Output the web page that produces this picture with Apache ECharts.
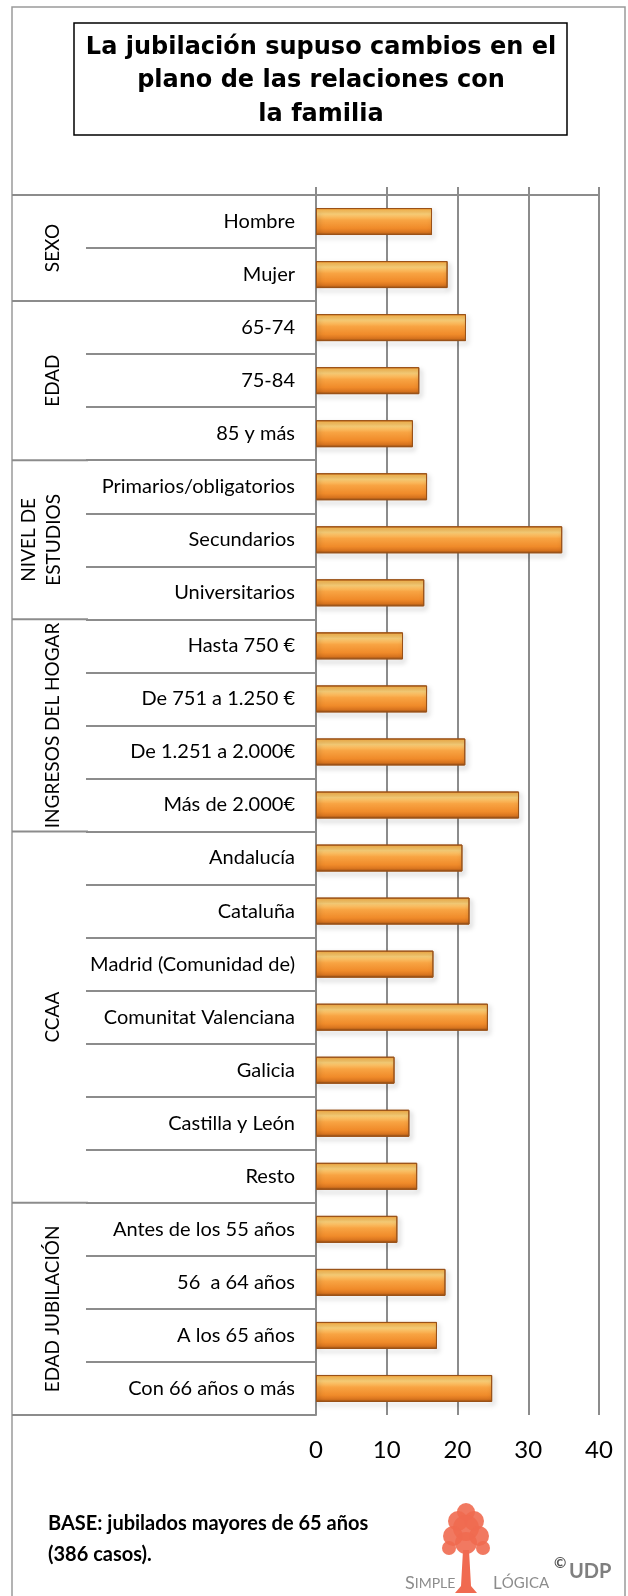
<!DOCTYPE html>
<html>
<head>
<meta charset="utf-8">
<script src="https://cdn.jsdelivr.net/npm/echarts@6/dist/echarts.min.js"></script>
<style>
  html, body { margin: 0; padding: 0; background: #fff; }
  #chart { width: 628px; height: 1596px; }
</style>
</head>
<body>
<div id="chart"></div>
<script>
// data
const categories = [
  "Hombre", "Mujer",
  "65-74", "75-84", "85 y más",
  "Primarios/obligatorios", "Secundarios", "Universitarios",
  "Hasta 750 €", "De 751 a 1.250 €", "De 1.251 a 2.000€", "Más de 2.000€",
  "Andalucía", "Cataluña", "Madrid (Comunidad de)", "Comunitat Valenciana",
  "Galicia", "Castilla y León", "Resto",
  "Antes de los 55 años", "56  a 64 años", "A los 65 años", "Con 66 años o más"
];
const values = [
  16.4, 18.6,
  21.2, 14.6, 13.7,
  15.7, 34.8, 15.3,
  12.3, 15.7, 21.1, 28.7,
  20.7, 21.7, 16.6, 24.3, 11.1, 13.2, 14.3,
  11.5, 18.3, 17.1, 24.9
];
const groupNames = ["SEXO", "EDAD", "NIVEL DE\nESTUDIOS", "INGRESOS DEL HOGAR", "CCAA", "EDAD JUBILACIÓN"];
const groupSizes = [2, 3, 3, 4, 7, 4];
const xTicks = [0, 10, 20, 30, 40];

const titleText = "La jubilación supuso cambios en el\nplano de las relaciones con\nla familia";
const footText = "BASE: jubilados mayores de 65 años\n(386 casos).";

const lineGray = "#8c8c8c";
const labelFont = "Lato";

const chart = echarts.init(document.getElementById("chart"));

//bar fill, bevelled orange look
const barFill = new echarts.graphic.LinearGradient(0, 0, 0, 1, [
  { offset: 0, color: "#f08a22" },
  { offset: 0.08, color: "#fbbd58" },
  { offset: 0.22, color: "#fdd27a" },
  { offset: 0.45, color: "#f8a443" },
  { offset: 0.75, color: "#f08b2a" },
  { offset: 0.9, color: "#d8741f" },
  { offset: 1, color: "#8f4c14" },
]);

chart.setOption({
  animation: false,
  backgroundColor: "#fff",
  grid: { left: 316, right: 29, top: 195, bottom: 181 },
  xAxis: [
    {
      type: "value",
      position: "bottom",
      min: xTicks[0],
      max: xTicks[xTicks.length - 1],
      interval: xTicks[1] - xTicks[0],
      axisLine: { show: false },
      axisTick: { show: false },
      splitLine: { show: true, lineStyle: { color: lineGray, width: 2 } },
      axisLabel: { fontFamily: labelFont, fontSize: 24, color: "#000", margin: 23 },
    },
    {
      type: "value",
      position: "top",
      min: xTicks[0],
      max: xTicks[xTicks.length - 1],
      interval: xTicks[1] - xTicks[0],
      axisLine: { show: true, lineStyle: { color: lineGray, width: 2 } },
      axisTick: { show: true, length: 8, lineStyle: { color: lineGray, width: 2 } },
      axisLabel: { show: false },
      splitLine: { show: false },
    },
  ],
  yAxis: {
    type: "category",
    inverse: true,
    data: categories,
    axisLine: { show: true, lineStyle: { color: lineGray, width: 2 } },
    axisTick: { show: true, interval: 0, length: 230, lineStyle: { color: lineGray, width: 2 } },
    axisLabel: { fontFamily: labelFont, fontSize: 20, color: "#000", margin: 21, interval: 0 },
  },
  series: [
    {
      type: "bar",
      xAxisIndex: 0,
      data: values,
      barWidth: 27,
      itemStyle: {
        color: barFill,
        borderColor: "#9a5218",
        borderWidth: 1,
        shadowColor: "rgba(0,0,0,0.35)",
        shadowBlur: 5,
        shadowOffsetX: 2,
        shadowOffsetY: 3,
      },
    },
  ],
});

// table lines and group labels, placed from the category scale
const c0 = chart.convertToPixel({ yAxisIndex: 0 }, 0);
const c1 = chart.convertToPixel({ yAxisIndex: 0 }, 1);
const band = c1 - c0;
const edge = (i) => c0 - band / 2 + i * band;
const axisX = chart.convertToPixel({ xAxisIndex: 0 }, 0);

const lineStyle = { stroke: lineGray, lineWidth: 2 };
let graphics = [
  // outer frame
  { type: "rect", shape: { x: 12, y: 7, width: 613, height: 1600 }, style: { fill: null, stroke: "#9a9a9a", lineWidth: 1.5 } },
  // title box
  { type: "rect", shape: { x: 74, y: 23, width: 493, height: 112 }, style: { fill: "#fff", stroke: "#000", lineWidth: 1.5 } },
  {
    type: "text", x: 321, y: 81,
    style: { text: titleText, font: "bold 24px 'DejaVu Sans'", fill: "#000", align: "center", verticalAlign: "middle", lineHeight: 33.5 },
  },
  { type: "line", shape: { x1: 12, y1: edge(0), x2: axisX, y2: edge(0) }, style: lineStyle },
  { type: "line", shape: { x1: 12, y1: edge(categories.length), x2: axisX, y2: edge(categories.length) }, style: lineStyle },
];

let start = 0;
groupNames.forEach((name, g) => {
  const end = start + groupSizes[g];
  if (start > 0) {
    graphics.push({ type: "line", shape: { x1: 12, y1: edge(start), x2: 88, y2: edge(start) }, style: lineStyle });
  }
  const twoLines = name.indexOf("\n") >= 0;
  graphics.push({
    type: "text",
    x: twoLines ? 41 : 53,
    y: (edge(start) + edge(end)) / 2,
    rotation: Math.PI / 2,
    style: { text: name, font: "19px " + labelFont, fill: "#000", align: "center", verticalAlign: "middle", lineHeight: 25 },
  });
  start = end;
});

// footer note
graphics.push({
  type: "text", x: 48, y: 1539,
  style: { text: footText, font: "bold 20px Lato", fill: "#000", align: "left", verticalAlign: "middle", lineHeight: 31 },
});

// logo: Simple Lógica tree + UDP
const treeColor = "#f06a50";
const canopy = [[466, 1512, 9], [458, 1521, 10], [474, 1521, 10], [466, 1528, 13], [453, 1536, 10], [479, 1536, 10], [449, 1548, 7], [483, 1548, 7], [466, 1543, 11]];
canopy.forEach((c) => {
  graphics.push({ type: "circle", shape: { cx: c[0], cy: c[1], r: c[2] }, style: { fill: treeColor, opacity: 0.9 } });
});
graphics.push({ type: "polygon", shape: { points: [[463, 1550], [469, 1550], [471, 1586], [477, 1593], [455, 1593], [461, 1586]] }, style: { fill: treeColor } });
graphics.push({
  type: "text", x: 405, y: 1592,
  style: { text: "{b|S}{s|IMPLE}", fill: "#8c8c8c", verticalAlign: "bottom", rich: { b: { fontSize: 18, fontFamily: labelFont, fill: "#8c8c8c" }, s: { fontSize: 14, fontFamily: labelFont, fill: "#8c8c8c" } } },
});
graphics.push({
  type: "text", x: 493, y: 1592,
  style: { text: "{b|L}{s|ÓGICA}", fill: "#8c8c8c", verticalAlign: "bottom", rich: { b: { fontSize: 17, fontFamily: labelFont, fill: "#8c8c8c" }, s: { fontSize: 15, fontFamily: labelFont, fill: "#8c8c8c" } } },
});
graphics.push({ type: "text", x: 554, y: 1563, style: { text: "©", font: "bold 15px Lato", fill: "#555", verticalAlign: "middle" } });
graphics.push({ type: "text", x: 569, y: 1572, style: { text: "UDP", font: "bold 20px Lato", fill: "#7f7f7f", verticalAlign: "middle" } });

chart.setOption({ graphic: graphics });
</script>
</body>
</html>
